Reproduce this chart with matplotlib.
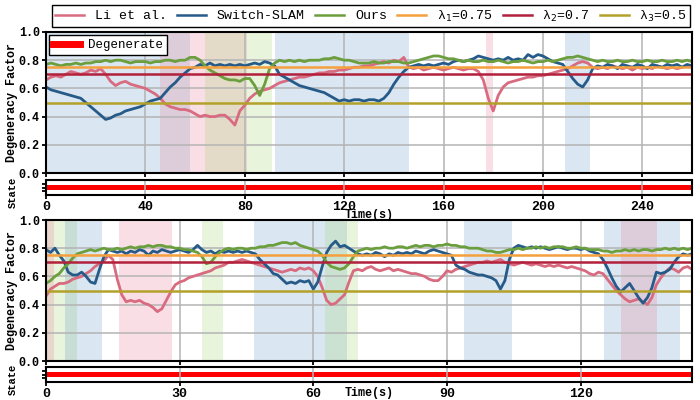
import numpy as np
import matplotlib
matplotlib.use('Agg')
import matplotlib.pyplot as plt
from matplotlib.lines import Line2D

plt.rcParams['font.family'] = ['Liberation Mono', 'DejaVu Sans']
plt.rcParams['font.size'] = 9

# ---------------- Daten: Sequenz 1 (alle 2 s) ----------------
t1 = np.arange(0, 261, 2)
li_1 = [0.66, 0.68, 0.69, 0.68, 0.70, 0.72, 0.71, 0.70, 0.71, 0.73,
        0.72, 0.74, 0.70, 0.65, 0.62, 0.64, 0.65, 0.63, 0.62, 0.61,
        0.60, 0.58, 0.56, 0.53, 0.49, 0.47, 0.46, 0.45, 0.45, 0.44,
        0.42, 0.40, 0.41, 0.40, 0.40, 0.41, 0.41, 0.38, 0.34, 0.44,
        0.48, 0.53, 0.56, 0.58, 0.59, 0.60, 0.62, 0.64, 0.65, 0.66,
        0.67, 0.68, 0.68, 0.69, 0.70, 0.71, 0.71, 0.72, 0.72, 0.73,
        0.73, 0.74, 0.75, 0.75, 0.76, 0.76, 0.77, 0.78, 0.79, 0.78,
        0.80, 0.79, 0.82, 0.75, 0.74, 0.75, 0.73, 0.74, 0.75, 0.74,
        0.73, 0.74, 0.75, 0.74, 0.73, 0.74, 0.74, 0.72, 0.66, 0.53,
        0.44, 0.55, 0.61, 0.64, 0.65, 0.66, 0.67, 0.68, 0.68, 0.69,
        0.69, 0.70, 0.71, 0.72, 0.73, 0.74, 0.76, 0.78, 0.79, 0.78,
        0.75, 0.74, 0.75, 0.74, 0.76, 0.75, 0.74, 0.75, 0.73, 0.75,
        0.74, 0.75, 0.74, 0.76, 0.75, 0.74, 0.75, 0.74, 0.75, 0.76,
        0.75]
switch_1 = [0.61, 0.59, 0.58, 0.57, 0.56, 0.55, 0.54, 0.53, 0.50, 0.47,
            0.44, 0.41, 0.38, 0.39, 0.41, 0.42, 0.44, 0.45, 0.46, 0.47,
            0.49, 0.51, 0.52, 0.53, 0.57, 0.61, 0.64, 0.68, 0.71, 0.74,
            0.75, 0.77, 0.76, 0.78, 0.76, 0.77, 0.76, 0.77, 0.76, 0.77,
            0.76, 0.77, 0.78, 0.77, 0.79, 0.78, 0.76, 0.70, 0.68, 0.66,
            0.64, 0.62, 0.61, 0.60, 0.59, 0.58, 0.57, 0.55, 0.53, 0.51,
            0.52, 0.51, 0.52, 0.52, 0.51, 0.52, 0.52, 0.51, 0.53, 0.57,
            0.63, 0.68, 0.72, 0.75, 0.76, 0.77, 0.76, 0.77, 0.76, 0.77,
            0.78, 0.77, 0.79, 0.80, 0.79, 0.80, 0.81, 0.83, 0.82, 0.81,
            0.80, 0.81, 0.80, 0.82, 0.80, 0.81, 0.80, 0.84, 0.82, 0.84,
            0.83, 0.81, 0.79, 0.78, 0.77, 0.72, 0.67, 0.63, 0.61, 0.66,
            0.74, 0.76, 0.75, 0.77, 0.76, 0.74, 0.77, 0.76, 0.75, 0.77,
            0.76, 0.74, 0.77, 0.76, 0.75, 0.77, 0.76, 0.77, 0.75, 0.77,
            0.76]
ours_1 = [0.77, 0.78, 0.77, 0.76, 0.77, 0.77, 0.78, 0.77, 0.78, 0.78,
          0.79, 0.79, 0.80, 0.79, 0.80, 0.80, 0.79, 0.78, 0.79, 0.79,
          0.79, 0.78, 0.79, 0.79, 0.80, 0.80, 0.79, 0.80, 0.80, 0.82,
          0.82, 0.80, 0.76, 0.73, 0.71, 0.69, 0.67, 0.66, 0.66, 0.65,
          0.67, 0.67, 0.62, 0.55, 0.63, 0.74, 0.78, 0.80, 0.79, 0.80,
          0.79, 0.80, 0.79, 0.80, 0.80, 0.80, 0.81, 0.81, 0.82, 0.81,
          0.80, 0.80, 0.79, 0.78, 0.78, 0.78, 0.79, 0.78, 0.78, 0.79,
          0.79, 0.79, 0.78, 0.78, 0.79, 0.80, 0.81, 0.82, 0.83, 0.83,
          0.82, 0.81, 0.81, 0.80, 0.79, 0.80, 0.79, 0.79, 0.80, 0.79,
          0.79, 0.80, 0.79, 0.78, 0.79, 0.79, 0.80, 0.79, 0.78, 0.79,
          0.79, 0.80, 0.79, 0.80, 0.81, 0.82, 0.82, 0.83, 0.82, 0.81,
          0.80, 0.79, 0.80, 0.79, 0.79, 0.80, 0.79, 0.79, 0.80, 0.79,
          0.79, 0.80, 0.79, 0.79, 0.80, 0.79, 0.79, 0.80, 0.79, 0.80,
          0.79]
# Degenerations-Bereiche (Start, Ende, Methode)
spans_1 = [(0, 58, 'switch'), (46, 81, 'li'), (64, 91, 'ours'),
           (92, 146, 'switch'), (177, 180, 'li'), (209, 219, 'switch')]
state_1 = [(0, 260)]

# ---------------- Daten: Sequenz 2 (jede Sekunde) ----------------
t2 = np.arange(0, 146, 1)
li_2 = [0.46, 0.51, 0.53, 0.55, 0.55, 0.56, 0.58, 0.59, 0.60, 0.62,
        0.64, 0.67, 0.69, 0.71, 0.75, 0.72, 0.58, 0.47, 0.42, 0.43,
        0.42, 0.43, 0.41, 0.40, 0.38, 0.35, 0.37, 0.43, 0.49, 0.54,
        0.56, 0.57, 0.59, 0.60, 0.61, 0.62, 0.63, 0.64, 0.66, 0.67,
        0.68, 0.70, 0.70, 0.71, 0.72, 0.71, 0.70, 0.69, 0.68, 0.67,
        0.66, 0.65, 0.64, 0.63, 0.64, 0.65, 0.64, 0.66, 0.65, 0.66,
        0.64, 0.60, 0.52, 0.43, 0.40, 0.41, 0.44, 0.47, 0.56, 0.64,
        0.65, 0.64, 0.66, 0.67, 0.65, 0.64, 0.65, 0.66, 0.64, 0.65,
        0.64, 0.63, 0.62, 0.62, 0.61, 0.60, 0.58, 0.57, 0.57, 0.60,
        0.64, 0.63, 0.65, 0.66, 0.67, 0.68, 0.69, 0.70, 0.70, 0.71,
        0.70, 0.71, 0.72, 0.70, 0.69, 0.68, 0.69, 0.70, 0.69, 0.68,
        0.69, 0.68, 0.67, 0.68, 0.67, 0.68, 0.67, 0.66, 0.67, 0.66,
        0.65, 0.64, 0.62, 0.61, 0.63, 0.62, 0.58, 0.54, 0.50, 0.47,
        0.44, 0.42, 0.43, 0.44, 0.42, 0.40, 0.45, 0.54, 0.59, 0.63,
        0.66, 0.65, 0.63, 0.66, 0.67, 0.65]
switch_2 = [0.79, 0.77, 0.80, 0.75, 0.71, 0.63, 0.61, 0.61, 0.63, 0.60,
            0.56, 0.55, 0.65, 0.74, 0.79, 0.78, 0.77, 0.78, 0.76, 0.78,
            0.77, 0.79, 0.78, 0.75, 0.78, 0.77, 0.79, 0.78, 0.77, 0.78,
            0.79, 0.78, 0.77, 0.79, 0.82, 0.79, 0.77, 0.78, 0.76, 0.78,
            0.77, 0.78, 0.77, 0.78, 0.77, 0.78, 0.77, 0.76, 0.72, 0.69,
            0.66, 0.62, 0.61, 0.58, 0.55, 0.56, 0.55, 0.57, 0.56, 0.57,
            0.51, 0.56, 0.67, 0.77, 0.82, 0.85, 0.81, 0.82, 0.80, 0.78,
            0.76, 0.75, 0.76, 0.75, 0.77, 0.76, 0.74, 0.76, 0.75, 0.77,
            0.76, 0.77, 0.76, 0.78, 0.77, 0.76, 0.78, 0.79, 0.78, 0.77,
            0.76, 0.75, 0.68, 0.66, 0.65, 0.63, 0.62, 0.61, 0.61, 0.60,
            0.59, 0.57, 0.51, 0.57, 0.72, 0.80, 0.82, 0.81, 0.80, 0.81,
            0.80, 0.81, 0.80, 0.79, 0.80, 0.81, 0.80, 0.79, 0.80, 0.80,
            0.79, 0.80, 0.78, 0.77, 0.76, 0.72, 0.66, 0.59, 0.53, 0.49,
            0.52, 0.55, 0.50, 0.45, 0.41, 0.45, 0.52, 0.63, 0.62, 0.63,
            0.65, 0.70, 0.74, 0.76, 0.75, 0.76]
ours_2 = [0.55, 0.57, 0.60, 0.62, 0.66, 0.69, 0.73, 0.76, 0.77, 0.78,
          0.79, 0.78, 0.79, 0.80, 0.79, 0.79, 0.80, 0.79, 0.80, 0.81,
          0.80, 0.81, 0.81, 0.82, 0.81, 0.82, 0.82, 0.81, 0.81, 0.80,
          0.80, 0.79, 0.79, 0.78, 0.77, 0.74, 0.69, 0.70, 0.74, 0.77,
          0.79, 0.80, 0.79, 0.80, 0.80, 0.79, 0.80, 0.80, 0.81, 0.81,
          0.82, 0.82, 0.83, 0.84, 0.84, 0.83, 0.84, 0.82, 0.81, 0.80,
          0.79, 0.78, 0.75, 0.70, 0.67, 0.66, 0.65, 0.66, 0.69, 0.74,
          0.78, 0.79, 0.80, 0.79, 0.80, 0.80, 0.81, 0.80, 0.80, 0.81,
          0.81, 0.80, 0.81, 0.82, 0.81, 0.82, 0.82, 0.81, 0.82, 0.82,
          0.83, 0.82, 0.82, 0.81, 0.81, 0.80, 0.80, 0.80, 0.79, 0.78,
          0.78, 0.77, 0.77, 0.78, 0.79, 0.79, 0.80, 0.79, 0.80, 0.80,
          0.81, 0.80, 0.81, 0.80, 0.81, 0.81, 0.81, 0.80, 0.80, 0.81,
          0.80, 0.80, 0.79, 0.79, 0.79, 0.78, 0.78, 0.77, 0.78, 0.78,
          0.79, 0.78, 0.79, 0.78, 0.79, 0.79, 0.78, 0.79, 0.79, 0.80,
          0.79, 0.80, 0.79, 0.80, 0.79, 0.80]
spans_2 = [(0, 7, 'ours'), (0, 1.7, 'li'), (4.3, 12.5, 'switch'),
           (16.4, 28.3, 'li'), (35, 39.8, 'ours'),
           (46.6, 67.6, 'switch'), (62.6, 70, 'ours'),
           (93.8, 104.6, 'switch'), (125.2, 142.2, 'switch'), (129, 137.2, 'li')]
state_2 = [(0, 145)]

# Schwellwerte
LAMBDAS = [0.75, 0.7, 0.5]
LAMBDA_LABELS = ['λ$_1$=0.75', 'λ$_2$=0.7', 'λ$_3$=0.5']

# Farben (Linien / Hintergrund-Bereiche)
C = {'li': '#d96b80', 'switch': '#265a88', 'ours': '#6b9e3c'}
C_SPAN = {'li': '#e8708a', 'switch': '#5a8fc0', 'ours': '#98d060'}
C_LAMBDA = ['#f4a03c', '#b2203c', '#b3a12a']
GRID = '#b4b4b4'


def style_axis(ax, ysize):
    for s in ax.spines.values():
        s.set_linewidth(1.5)
    ax.tick_params(direction='out', width=1.3, length=3, pad=1.5)
    ax.tick_params(axis='x', labelsize=9.5)
    ax.tick_params(axis='y', labelsize=ysize)
    for lab in ax.get_xticklabels() + ax.get_yticklabels():
        lab.set_fontweight('bold')


def draw_panel(fig, rect_main, rect_state, t, li, sw, ours, spans, state,
               xmax, xticks, xlab_y):
    ax = fig.add_axes(rect_main)
    for a, b, key in spans:
        ax.axvspan(a, b, color=C_SPAN[key], alpha=0.22, lw=0)
    ax.plot(t, li, color=C['li'], lw=2.0)
    ax.plot(t, sw, color=C['switch'], lw=2.0)
    ax.plot(t, ours, color=C['ours'], lw=2.0)
    for lam, col in zip(LAMBDAS, C_LAMBDA):
        ax.axhline(lam, color=col, lw=1.8)
    ax.set_xlim(0, xmax)
    ax.set_ylim(0, 1)
    ax.set_xticks(xticks)
    ax.set_xticklabels([])
    ax.set_yticks(np.arange(0, 1.01, 0.2))
    ax.grid(True, color=GRID, lw=1.1)
    ax.set_ylabel('Degeneracy Factor', fontweight='bold', fontsize=8.5)
    ax.yaxis.set_label_coords(-0.043, 0.5)
    style_axis(ax, 8.5)

    axs = fig.add_axes(rect_state)
    axs.broken_barh(state, (0.7, 0.6), facecolors='red')
    axs.set_xlim(0, xmax)
    axs.set_ylim(0, 2)
    axs.set_xticks(xticks)
    axs.set_yticks([0.5, 1.0, 1.5])
    axs.set_yticklabels([])
    axs.grid(True, axis='x', color=GRID, lw=1.1)
    axs.set_ylabel('State', fontweight='bold', fontsize=7.5)
    axs.yaxis.set_label_coords(-0.043, 0.2)
    axs.set_xlabel('Time(s)', fontweight='bold', fontsize=8.5)
    axs.xaxis.set_label_coords(0.5, xlab_y)
    style_axis(axs, 7)
    return ax, axs


fig = plt.figure(figsize=(7, 4), dpi=100)

L, W = 46 / 700, 646 / 700
ax1, _ = draw_panel(fig, [L, 0.5675, W, 0.3525], [L, 0.5125, W, 0.0375],
                    t1, li_1, switch_1, ours_1, spans_1, state_1, 260,
                    np.arange(0, 241, 40), -0.9)
ax2, _ = draw_panel(fig, [L, 0.0975, W, 0.3525], [L, 0.045, W, 0.0375],
                    t2, li_2, switch_2, ours_2, spans_2, state_2, 145,
                    np.arange(0, 121, 30), -0.35)

# Legende oben
handles = [Line2D([], [], color=C['li'], lw=1.8),
           Line2D([], [], color=C['switch'], lw=1.8),
           Line2D([], [], color=C['ours'], lw=1.8)]
handles += [Line2D([], [], color=c, lw=1.8) for c in C_LAMBDA]
labels = ['Li et al.', 'Switch-SLAM', 'Ours'] + LAMBDA_LABELS
leg = fig.legend(handles, labels, loc='center', ncol=6, mode='expand',
                 bbox_to_anchor=(52 / 700, 1 - 27 / 400, 638 / 700, 22 / 400),
                 borderaxespad=0, borderpad=0.25, fancybox=False, framealpha=1,
                 edgecolor='black', handlelength=2.2, columnspacing=1.0,
                 handletextpad=0.8, fontsize=9.5)
leg.get_frame().set_linewidth(1.0)

leg2 = ax1.legend([Line2D([], [], color='red', lw=5)], ['Degenerate'],
                  loc='upper left', fancybox=False, framealpha=1,
                  edgecolor='black', borderaxespad=0.25, borderpad=0.3,
                  handlelength=2.2, handletextpad=0.6, fontsize=9)
leg2.get_frame().set_linewidth(1.0)

fig.savefig('out.png', dpi=100)
